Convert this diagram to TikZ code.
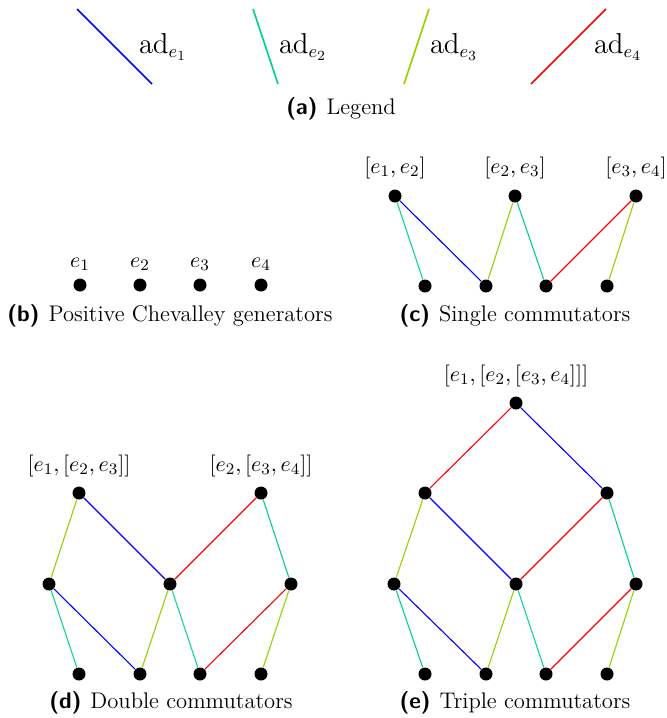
\documentclass[tikz,border=0pt]{standalone}
\definecolor{cA}{RGB}{0,0,255}
\definecolor{cB}{RGB}{0,210,150}
\definecolor{cC}{RGB}{150,210,0}
\definecolor{cD}{RGB}{255,0,0}
\tikzset{
  dot/.style={circle, fill=black, inner sep=0pt, minimum size=6.5pt},
  edge/.style={line width=0.55pt},
  legline/.style={line width=0.85pt},
  lbl/.style={anchor=base, inner sep=0pt},
  leglbl/.style={anchor=base, inner sep=0pt, font=\fontsize{13.5}{16}\selectfont},
  captext/.style={anchor=base, inner sep=0pt},
}
\newcommand{\subcap}[2]{\textsf{\bfseries(#1)}\hspace{0.4em}#2}
\begin{document}
\begin{tikzpicture}[x=0.5pt, y=-0.5pt, font=\fontsize{11.3}{13.5}\selectfont]
\useasboundingbox (0,0) rectangle (667,718);

% (a) legend
\coordinate (la1) at (77,9);   \coordinate (la2) at (152,84);
\coordinate (lb1) at (253,9);  \coordinate (lb2) at (278,84);
\coordinate (lc1) at (429,9);  \coordinate (lc2) at (404,84);
\coordinate (ld1) at (606,9);  \coordinate (ld2) at (531,84);
\draw[legline, cA] (la1) -- (la2);
\draw[legline, cB] (lb1) -- (lb2);
\draw[legline, cC] (lc1) -- (lc2);
\draw[legline, cD] (ld1) -- (ld2);
\node[leglbl] (ta) at (163,53) {$\mathrm{ad}_{e_1}$};
\node[leglbl] (tb) at (303,53) {$\mathrm{ad}_{e_2}$};
\node[leglbl] (tc) at (454,53) {$\mathrm{ad}_{e_3}$};
\node[leglbl] (td) at (618,53) {$\mathrm{ad}_{e_4}$};
\node[captext] (capa) at (341,114) {\subcap{a}{Legend}};

% (b) generators
\node[dot] (b1) at (80,285) {};
\node[dot] (b2) at (140,285) {};
\node[dot] (b3) at (200,285) {};
\node[dot] (b4) at (261,285) {};
\node[lbl] (bl1) at (80,267) {$e_1$};
\node[lbl] (bl2) at (140,267) {$e_2$};
\node[lbl] (bl3) at (200,267) {$e_3$};
\node[lbl] (bl4) at (261,267) {$e_4$};
\node[captext] (capb) at (170,321) {\subcap{b}{Positive Chevalley generators}};

% (c) single commutators
\node[dot] (ct1) at (395,196) {};
\node[dot] (ct2) at (515,196) {};
\node[dot] (ct3) at (636,196) {};
\node[dot] (cb1) at (425,286) {};
\node[dot] (cb2) at (486,286) {};
\node[dot] (cb3) at (546,286) {};
\node[dot] (cb4) at (607,286) {};
\node[lbl] (cl1) at (395,173) {$[e_1,e_2]$};
\node[lbl] (cl2) at (515,173) {$[e_2,e_3]$};
\node[lbl] (cl3) at (636,173) {$[e_3,e_4]$};
\draw[edge, cB] (ct1) -- (cb1);
\draw[edge, cA] (ct1) -- (cb2);
\draw[edge, cC] (ct2) -- (cb2);
\draw[edge, cB] (ct2) -- (cb3);
\draw[edge, cD] (ct3) -- (cb3);
\draw[edge, cC] (ct3) -- (cb4);
\node[captext] (capc) at (515,321) {\subcap{c}{Single commutators}};

% (d) double commutators
\node[dot] (dt1) at (79,493) {};
\node[dot] (dt2) at (261,493) {};
\node[dot] (dm1) at (49,584) {};
\node[dot] (dm2) at (170,584) {};
\node[dot] (dm3) at (291,584) {};
\node[dot] (db1) at (79,674) {};
\node[dot] (db2) at (140,674) {};
\node[dot] (db3) at (200,674) {};
\node[dot] (db4) at (261,674) {};
\node[lbl] (dl1) at (79,471) {$[e_1,[e_2,e_3]]$};
\node[lbl] (dl2) at (261,471) {$[e_2,[e_3,e_4]]$};
\draw[edge, cC] (dt1) -- (dm1);
\draw[edge, cA] (dt1) -- (dm2);
\draw[edge, cD] (dt2) -- (dm2);
\draw[edge, cB] (dt2) -- (dm3);
\draw[edge, cB] (dm1) -- (db1);
\draw[edge, cA] (dm1) -- (db2);
\draw[edge, cC] (dm2) -- (db2);
\draw[edge, cB] (dm2) -- (db3);
\draw[edge, cD] (dm3) -- (db3);
\draw[edge, cC] (dm3) -- (db4);
\node[captext] (capd) at (171,708) {\subcap{d}{Double commutators}};

% (e) triple commutators
\node[dot] (et) at (516,403) {};
\node[dot] (e21) at (425,493) {};
\node[dot] (e22) at (607,493) {};
\node[dot] (e31) at (394,584) {};
\node[dot] (e32) at (516,584) {};
\node[dot] (e33) at (636,584) {};
\node[dot] (eb1) at (425,674) {};
\node[dot] (eb2) at (486,674) {};
\node[dot] (eb3) at (546,674) {};
\node[dot] (eb4) at (607,674) {};
\node[lbl] (el) at (516,381) {$[e_1,[e_2,[e_3,e_4]]]$};
\draw[edge, cD] (et) -- (e21);
\draw[edge, cA] (et) -- (e22);
\draw[edge, cC] (e21) -- (e31);
\draw[edge, cA] (e21) -- (e32);
\draw[edge, cD] (e22) -- (e32);
\draw[edge, cB] (e22) -- (e33);
\draw[edge, cB] (e31) -- (eb1);
\draw[edge, cA] (e31) -- (eb2);
\draw[edge, cC] (e32) -- (eb2);
\draw[edge, cB] (e32) -- (eb3);
\draw[edge, cD] (e33) -- (eb3);
\draw[edge, cC] (e33) -- (eb4);
\node[captext] (cape) at (515,708) {\subcap{e}{Triple commutators}};
\end{tikzpicture}
\end{document}
